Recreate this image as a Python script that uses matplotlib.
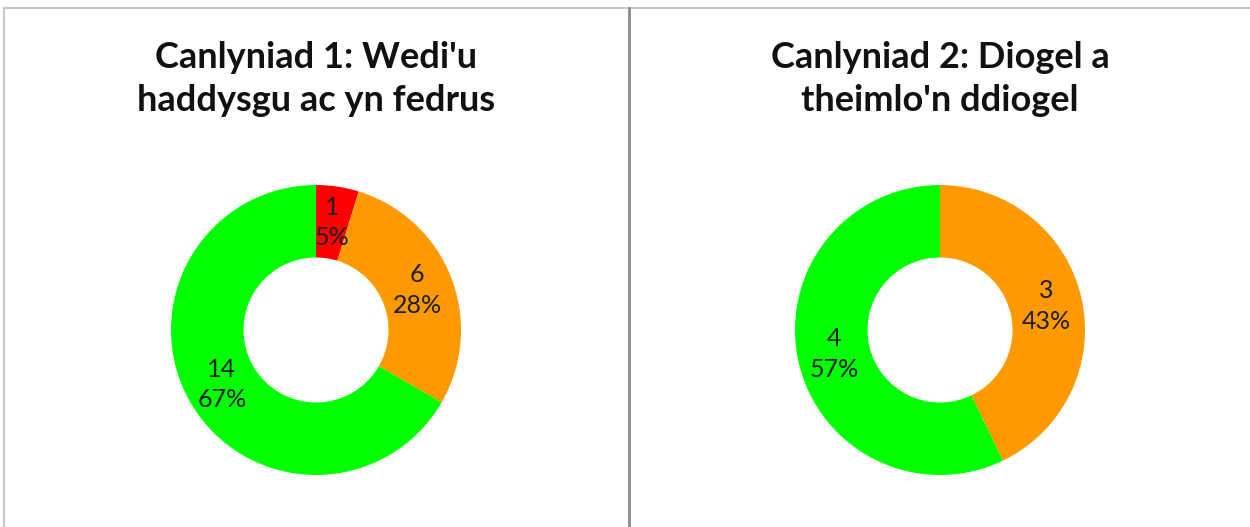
import numpy as np
import matplotlib
matplotlib.use("Agg")
import matplotlib.pyplot as plt
from matplotlib.lines import Line2D

# ---- data ----
titles = ["Canlyniad 1: Wedi'u\nhaddysgu ac yn fedrus",
          "Canlyniad 2: Diogel a\ntheimlo'n ddiogel"]
chart1_values = [1, 6, 14]
chart1_pcts = ["5%", "28%", "67%"]
chart1_colors = ["#FF0000", "#FF9900", "#00FF00"]
chart2_values = [3, 4]
chart2_pcts = ["43%", "57%"]
chart2_colors = ["#FF9900", "#00FF00"]

W, H = 1250, 527
fig = plt.figure(figsize=(W / 100, H / 100), dpi=100)
fig.patch.set_facecolor("white")

# panel borders
fig.add_artist(Line2D([4 / W, 4 / W], [0, 1 - 8 / H], color="#c8c8c8", lw=1.5))
fig.add_artist(Line2D([4 / W, 1], [1 - 8 / H, 1 - 8 / H], color="#c8c8c8", lw=1.5))
fig.add_artist(Line2D([629 / W, 629 / W], [0, 1 - 8 / H], color="#8a8a8a", lw=2))

TITLE_FONT = "Lato"
LABEL_FONT = "Lato"

def donut(cx, cy, r, values, pcts, colors, title):
    ax = fig.add_axes([(cx - r) / W, 1 - (cy + r) / H, 2 * r / W, 2 * r / H])
    ax.pie(values, colors=colors, startangle=90, counterclock=False,
           radius=1.0, wedgeprops=dict(width=0.5, linewidth=0))
    ax.set_xlim(-1, 1)
    ax.set_ylim(-1, 1)
    ax.set_aspect("equal")
    ax.axis("off")
    total = float(sum(values))
    cum = 0.0
    for v, p in zip(values, pcts):
        mid = cum + v / 2.0
        ang = np.deg2rad(90 - 360 * mid / total)
        ax.text(0.75 * np.cos(ang), 0.75 * np.sin(ang), f"{v}\n{p}",
                ha="center", va="center", fontsize=18, family=LABEL_FONT,
                color="#1e1e1e", linespacing=1.4)
        cum += v
    fig.text(cx / W, 1 - 79 / H, title, ha="center", va="center",
             fontsize=26, fontweight="bold", family=TITLE_FONT,
             color="#111111", linespacing=1.35)

donut(316, 330, 145, chart1_values, chart1_pcts, chart1_colors, titles[0])
donut(940, 330, 145, chart2_values, chart2_pcts, chart2_colors, titles[1])

fig.savefig("out.png", dpi=100, facecolor="white")
